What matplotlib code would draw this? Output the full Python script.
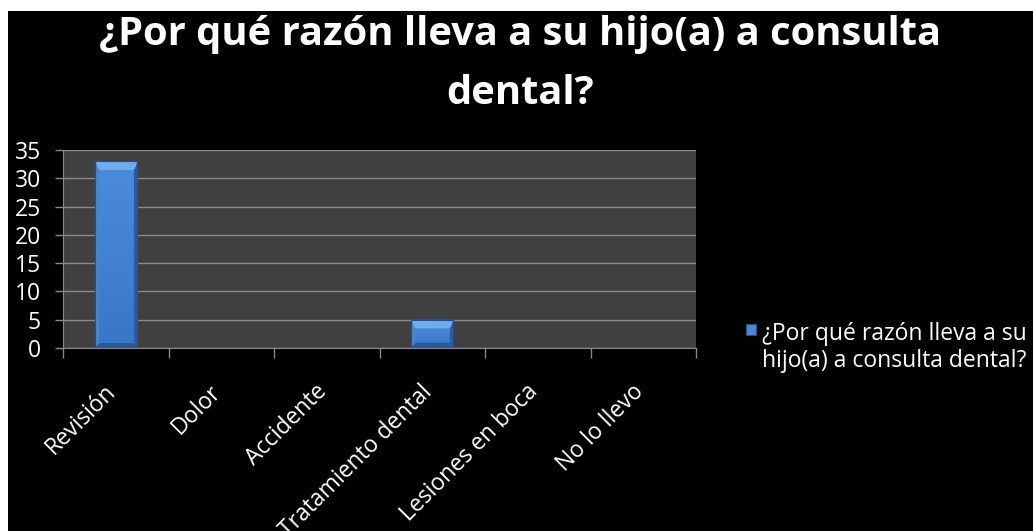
import numpy as np
import matplotlib
matplotlib.use("Agg")
import matplotlib.pyplot as plt
from matplotlib.patches import Rectangle
from matplotlib.transforms import ScaledTranslation

categories = ["Revisión", "Dolor", "Accidente", "Tratamiento dental",
              "Lesiones en boca", "No lo llevo"]
values = [33, 0, 0, 5, 0, 0]
series_lines = ["¿Por qué razón lleva a su", "hijo(a) a consulta dental?"]
title_lines = ["¿Por qué razón lleva a su hijo(a) a consulta", "dental?"]
yticks = [0, 5, 10, 15, 20, 25, 30, 35]

plt.rcParams["font.family"] = ["Open Sans", "DejaVu Sans"]

W, H, DPI = 1033, 531, 100
fig = plt.figure(figsize=(W / DPI, H / DPI), dpi=DPI, facecolor="white")
# black slide background (thin white border at top and left)
fig.patches.append(Rectangle((8 / W, 0), 1, 1 - 11 / H, transform=fig.transFigure,
                             facecolor="black", edgecolor="none", zorder=-10))

ax = fig.add_axes([63 / W, 1 - 348 / H, (696 - 63) / W, (348 - 150) / H])
ax.set_facecolor("#404040")

x = np.arange(len(categories))
bar_w = 0.40
bars = ax.bar(x, values, width=bar_w, color="#4a88d4", edgecolor="none", zorder=3)


def bevel_image(wpx, hpx, top=9, side=4, bottom=5):
    """RGB image of a bevelled bar face, wpx x hpx pixels."""
    wpx, hpx = max(int(round(wpx)), 2), max(int(round(hpx)), 2)
    xs = np.arange(wpx)[None, :] + 0.5
    ys = np.arange(hpx)[:, None] + 0.5  # row 0 = top
    dl = np.broadcast_to(xs / side, (hpx, wpx))
    dr = np.broadcast_to((wpx - xs) / side, (hpx, wpx))
    dt = np.broadcast_to(ys / top, (hpx, wpx))
    db = np.broadcast_to((hpx - ys) / bottom, (hpx, wpx))
    d = np.stack([dt, dl, dr, db])
    face = np.argmin(d, axis=0)
    inside = d.min(axis=0) >= 1.0
    cols = np.array([
        [112, 172, 240],  # top
        [70, 132, 212],   # left
        [40, 92, 168],    # right
        [42, 88, 158],    # bottom
    ]) / 255.0
    img = cols[face]
    c_top = np.array([76, 140, 220]) / 255.0
    c_bot = np.array([58, 118, 198]) / 255.0
    t = (ys / hpx)[:, :, None]
    front = c_top[None, None, :] * (1 - t) + c_bot[None, None, :] * t
    front = np.broadcast_to(front, img.shape)
    img = np.where(inside[:, :, None], front, img)
    return img


px_per_unit_x = (696 - 63) / len(categories)
px_per_unit_y = (348 - 150) / 35.0
for rect, v in zip(bars, values):
    if v <= 0:
        continue
    x0 = rect.get_x()
    img = bevel_image(bar_w * px_per_unit_x, v * px_per_unit_y)
    im = ax.imshow(img, extent=(x0, x0 + bar_w, 0, v), aspect="auto",
                   interpolation="bilinear", zorder=4)
    im.set_clip_path(rect)
    rect.set_edgecolor("#25508c")
    rect.set_linewidth(0.8)
    rect.set_facecolor("none")
    rect.set_zorder(5)

ax.set_xlim(-0.5, len(categories) - 0.5)
ax.set_ylim(0, 35)
ax.set_yticks(yticks)
ax.yaxis.grid(True, color="#8a8a8a", linewidth=1.0, zorder=1)
ax.set_axisbelow(True)

for side in ["top", "right"]:
    ax.spines[side].set_visible(False)
ax.spines["left"].set_color("#8a8a8a")
ax.spines["bottom"].set_color("#8a8a8a")

ax.tick_params(axis="y", colors="#8a8a8a", length=6, width=1,
               labelcolor="white", labelsize=16.5, pad=10)
ax.set_xticks(x)
ax.set_xticks(np.arange(-0.5, len(categories), 1.0), minor=True)
ax.tick_params(axis="x", which="major", length=0, labelcolor="white",
               labelsize=16.5, pad=23)
ax.tick_params(axis="x", which="minor", length=7, width=1, colors="#8a8a8a")
ax.set_xticklabels(categories, rotation=45, ha="right", va="top")
for lab in ax.get_xticklabels():
    lab.set_transform(lab.get_transform() + ScaledTranslation(5 / DPI, 0, fig.dpi_scale_trans))

# two-line title
for txt, base in zip(title_lines, [45, 104]):
    fig.text(520 / W, 1 - base / H, txt, ha="center", va="baseline", color="white",
             fontsize=28.75, fontweight="bold")

# legend
fig.patches.append(Rectangle((746 / W, 1 - 335 / H), 10 / W, 11 / H,
                             transform=fig.transFigure, facecolor="#4a88d4",
                             edgecolor="#25508c", linewidth=0.8))
for txt, base in zip(series_lines, [340, 367]):
    fig.text(762 / W, 1 - base / H, txt, ha="left", va="baseline", color="white",
             fontsize=16.5)

fig.savefig("out.png", dpi=DPI, facecolor=fig.get_facecolor())
